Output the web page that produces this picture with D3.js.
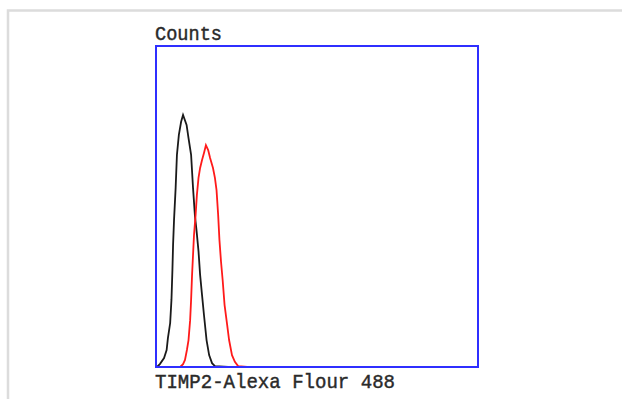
<!DOCTYPE html>
<html>
<head>
<meta charset="utf-8">
<script src="https://cdn.jsdelivr.net/npm/d3@7"></script>
<style>
  body { margin: 0; background: #fff; }
  text { font-family: "Liberation Mono", monospace; fill: #2a2a2a; stroke: #2a2a2a; stroke-width: 0.45; }
</style>
</head>
<body>
<svg id="chart"></svg>
<script>
// fluorescence channel (0-1000) and counts (0-100)
const blackX = [3, 12, 25, 33, 37, 44, 48, 51, 53, 56, 61, 65, 71, 78, 84, 95, 101, 109, 115, 121, 126, 132, 137, 143, 149, 157, 165, 174, 183, 224];
const blackY = [0, 0.9, 2.8, 5.3, 9, 13.7, 20.9, 30.2, 38, 45.8, 55.8, 66.1, 72.3, 76.4, 78.5, 75.4, 71.3, 66.1, 55.8, 47, 42.4, 36.1, 28.7, 22.4, 16.2, 8.4, 3.7, 1.2, 0.3, 0];
const redX = [28, 75, 84, 90, 96, 101, 106, 109, 112, 115, 118, 123, 127, 132, 137, 143, 149, 155, 162, 168, 177, 183, 188, 193, 197, 202, 207, 213, 221, 227, 236, 245, 255, 283];
const redY = [0, 0, 0.9, 2.2, 5.3, 8.4, 14.6, 20.9, 28.7, 34.9, 41.1, 47.4, 53.6, 58.9, 62, 64.5, 66.7, 69.1, 67.6, 65.1, 62, 58.9, 55.1, 47.4, 39.6, 32.7, 27.1, 19.3, 13.1, 8.4, 3.7, 1.6, 0.3, 0];
const xLabel = "TIMP2-Alexa Flour 488";
const yLabel = "Counts";

const W = 622, H = 399;
const box = {left: 156, top: 46, right: 478, bottom: 367};

const svg = d3.select("#chart").attr("width", W).attr("height", H);

// outer light frame
svg.append("rect")
  .attr("x", 8).attr("y", 10.5)
  .attr("width", W + 20).attr("height", H + 20)
  .attr("fill", "none")
  .attr("stroke", "#dcdcdc")
  .attr("stroke-width", 2.5);

const x = d3.scaleLinear().domain([0, 1000]).range([box.left, box.right]);
const y = d3.scaleLinear().domain([0, 100]).range([box.bottom, box.top]);

const line = d3.line()
  .x(d => x(d[0]))
  .y(d => y(d[1]));

svg.append("path")
  .datum(d3.zip(blackX, blackY))
  .attr("d", line)
  .attr("fill", "none")
  .attr("stroke", "#1a1a1a")
  .attr("stroke-width", 1.8);

svg.append("path")
  .datum(d3.zip(redX, redY))
  .attr("d", line)
  .attr("fill", "none")
  .attr("stroke", "#ff1a1a")
  .attr("stroke-width", 1.8);

// plot frame
svg.append("rect")
  .attr("x", box.left).attr("y", box.top)
  .attr("width", box.right - box.left)
  .attr("height", box.bottom - box.top)
  .attr("fill", "none")
  .attr("stroke", "#2f2fff")
  .attr("stroke-width", 2);

svg.append("text")
  .attr("x", 155).attr("y", 40)
  .attr("font-size", 21)
  .attr("textLength", 67)
  .attr("lengthAdjust", "spacingAndGlyphs")
  .text(yLabel);

svg.append("text")
  .attr("x", 155).attr("y", 388)
  .attr("font-size", 21)
  .attr("textLength", 240)
  .attr("lengthAdjust", "spacingAndGlyphs")
  .text(xLabel);
</script>
</body>
</html>
